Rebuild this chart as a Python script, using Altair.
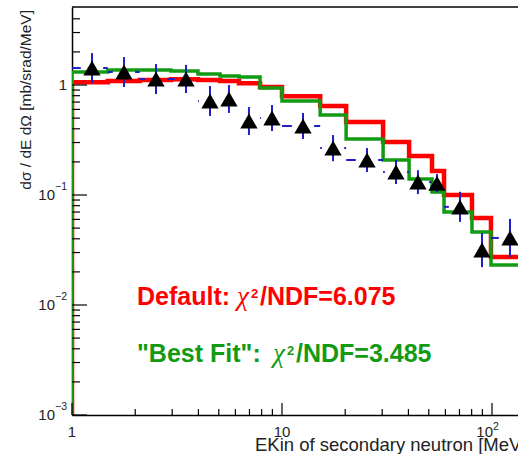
import altair as alt
import pandas as pd

# ---------------- data ----------------
bin_edges = [1.0, 1.48, 2.1, 2.96, 3.98, 5.07, 6.24, 7.86, 10.0, 15.2, 20.2,
             30.3, 40.3, 51.8, 59.1, 80.3, 98.9, 152.0]
default_vals = [1.06, 1.09, 1.11, 1.13, 1.11, 1.09, 1.04, 0.96, 0.79, 0.644,
                0.461, 0.303, 0.226, 0.165, 0.100, 0.0618, 0.0273]
bestfit_vals = [1.31, 1.37, 1.37, 1.34, 1.26, 1.21, 1.18, 0.939, 0.716, 0.534,
                0.323, 0.208, 0.140, 0.1065, 0.070, 0.0461, 0.0231]

data_E = [1.245, 1.768, 2.512, 3.49, 4.54, 5.59, 6.96, 8.96, 12.59, 17.5,
          25.4, 34.9, 44.4, 54.7, 70.4, 89.6, 121.8]
data_v = [1.427, 1.313, 1.134, 1.134, 0.716, 0.746, 0.471, 0.501, 0.424, 0.267,
          0.208, 0.162, 0.131, 0.128, 0.078, 0.0316, 0.0407]
data_lo = [1.043, 0.960, 0.829, 0.846, 0.523, 0.557, 0.351, 0.382, 0.323, 0.203,
           0.162, 0.126, 0.102, 0.106, 0.057, 0.0221, 0.0273]
data_hi = [1.952, 1.796, 1.551, 1.520, 0.979, 1.000, 0.631, 0.658, 0.557, 0.351,
           0.267, 0.208, 0.168, 0.155, 0.107, 0.0451, 0.0606]

x_major = [1, 10, 100]
x_minor = [2, 3, 4, 5, 6, 7, 8, 9, 20, 30, 40, 50, 60, 70, 80, 90]
y_major = [0.001, 0.01, 0.1, 1]
y_minor = [0.002, 0.003, 0.004, 0.005, 0.006, 0.007, 0.008, 0.009,
           0.02, 0.03, 0.04, 0.05, 0.06, 0.07, 0.08, 0.09,
           0.2, 0.3, 0.4, 0.5, 0.6, 0.7, 0.8, 0.9, 2, 3, 4]
y_label_vals = [0.1, 0.01, 0.001]
y_label_exps = ["\u22121", "\u22122", "\u22123"]

label_default = ["Default:", "\u03c7", "2", "/NDF=6.075"]
label_bestfit = ["\"Best Fit\":", "\u03c7", "2", "/NDF=3.485"]
x_title = "EKin of secondary neutron [MeV]"
y_title = "d\u03c3 / dE d\u03a9 [mb/srad/MeV]"

# ---------------- layout ----------------
W, H = 446, 408
XMIN, XMAX = 1.0, 133.0
YMIN, YMAX = 0.001, 5.12
RED = "#ff0000"
GREEN = "#139a13"
BLUE = "#1f1fc8"
FONT = "Liberation Sans"

xs = alt.Scale(type="log", domain=[XMIN, XMAX], nice=False)
ys = alt.Scale(type="log", domain=[YMIN, YMAX], nice=False)
XAX = alt.Axis(labels=False, ticks=False, grid=False, title="",
               domainColor="#000", domainWidth=1.5)
YAX = alt.Axis(labels=False, ticks=False, grid=False, title="",
               domainColor="#000", domainWidth=1.5)


def X(field):
    return alt.X(field, type="quantitative", scale=xs, axis=XAX)


def Y(field):
    return alt.Y(field, type="quantitative", scale=ys, axis=YAX)


def step_df(vals):
    es, vs = [bin_edges[0]], [YMIN]
    for i, v in enumerate(vals):
        es += [bin_edges[i], bin_edges[i + 1]]
        vs += [v, v]
    return pd.DataFrame({"e": es, "v": vs, "i": list(range(len(es)))})


def one(t):
    return pd.DataFrame({"t": [t]})


hist_red = alt.Chart(step_df(default_vals)).mark_line(
    color=RED, strokeWidth=4.5, clip=True, strokeJoin="miter"
).encode(x=X("e"), y=Y("v"), order="i:Q")
hist_green = alt.Chart(step_df(bestfit_vals)).mark_line(
    color=GREEN, strokeWidth=3.5, clip=True, strokeJoin="miter"
).encode(x=X("e"), y=Y("v"), order="i:Q")

pts = pd.DataFrame({
    "e": data_E, "v": data_v, "lo": data_lo, "hi": data_hi,
    "xl": bin_edges[:-1], "xh": bin_edges[1:],
})
err_v = alt.Chart(pts).mark_rule(color=BLUE, strokeWidth=2, clip=True).encode(
    x=X("e"), y=Y("lo"), y2="hi")
# horizontal bars, broken around the marker as ROOT draws them
err_hl = alt.Chart(pts).transform_calculate(
    a="max(datum.xl, datum.e / 1.13)"
).mark_rule(color=BLUE, strokeWidth=2, clip=True).encode(
    x=X("xl"), x2="a:Q", y=Y("v"))
err_hr = alt.Chart(pts).transform_calculate(
    b="min(datum.xh, datum.e * 1.13)"
).mark_rule(color=BLUE, strokeWidth=2, clip=True).encode(
    x=X("b"), x2="xh:Q", y=Y("v"))
markers = alt.Chart(pts).mark_point(
    shape="triangle-up", filled=True, color="#000", size=300, opacity=1
).encode(x=X("e"), y=Y("v"))

# frame top line
top_line = alt.Chart(one("")).mark_rule(color="#000", strokeWidth=1.5).encode(
    x=alt.value(0), x2=alt.value(W + 2), y=alt.value(0))

# inside ticks
xt_major = alt.Chart(pd.DataFrame({"e": x_major})).mark_rule(color="#000", strokeWidth=1.2).encode(
    x=X("e"), y=alt.value(H), y2=alt.value(H - 12))
xt_minor = alt.Chart(pd.DataFrame({"e": x_minor})).mark_rule(color="#000", strokeWidth=1.2).encode(
    x=X("e"), y=alt.value(H), y2=alt.value(H - 6))
yt_major = alt.Chart(pd.DataFrame({"v": y_major})).mark_rule(color="#000", strokeWidth=1.2).encode(
    y=Y("v"), x=alt.value(0), x2=alt.value(15))
yt_minor = alt.Chart(pd.DataFrame({"v": y_minor})).mark_rule(color="#000", strokeWidth=1.2).encode(
    y=Y("v"), x=alt.value(0), x2=alt.value(8))

LBL = dict(font=FONT, fontSize=15, color="#222")
EXP = dict(font=FONT, fontSize=10.5, color="#222")

# y tick labels
ylab_one = alt.Chart(pd.DataFrame({"v": [1], "t": ["1"]})).mark_text(
    align="right", baseline="middle", **LBL).encode(y=Y("v"), x=alt.value(-5), text="t:N")
ylab_base = alt.Chart(pd.DataFrame({"v": y_label_vals, "t": ["10"] * 3})).mark_text(
    align="right", baseline="middle", **LBL).encode(y=Y("v"), x=alt.value(-17), text="t:N")
ylab_exp = alt.Chart(pd.DataFrame({"v": y_label_vals, "t": y_label_exps})).mark_text(
    align="left", baseline="middle", dy=-8, **EXP).encode(y=Y("v"), x=alt.value(-17), text="t:N")

# x tick labels
xlab_a = alt.Chart(pd.DataFrame({"e": [1, 10], "t": ["1", "10"]})).mark_text(
    align="center", baseline="alphabetic", **LBL).encode(x=X("e"), y=alt.value(H + 22), text="t:N")
xlab_b = alt.Chart(pd.DataFrame({"e": [100], "t": ["10"]})).mark_text(
    align="right", baseline="alphabetic", dx=1, **LBL).encode(x=X("e"), y=alt.value(H + 22), text="t:N")
xlab_e = alt.Chart(pd.DataFrame({"e": [100], "t": ["2"]})).mark_text(
    align="left", baseline="alphabetic", dx=1, dy=-7, **EXP).encode(x=X("e"), y=alt.value(H + 22), text="t:N")

# axis titles
xtitle = alt.Chart(one(x_title)).mark_text(
    align="left", baseline="alphabetic", font=FONT, fontSize=18.5, color="#222").encode(
    x=alt.value(183), y=alt.value(H + 36), text="t:N")
ytitle = alt.Chart(one(y_title)).mark_text(
    align="right", baseline="middle", angle=270, font=FONT, fontSize=15.5, color="#222").encode(
    x=alt.value(-46), y=alt.value(3), text="t:N")


def legend_line(parts, color, ybase, xs_px):
    layers = []
    styles = [
        dict(font=FONT, fontSize=25, fontWeight="bold"),
        dict(font="Liberation Serif", fontSize=27, fontStyle="italic"),
        dict(font=FONT, fontSize=13, fontWeight="bold"),
        dict(font=FONT, fontSize=25, fontWeight="bold"),
    ]
    offs = [0, 0, -7, 0]
    for t, st, xp, off in zip(parts, styles, xs_px, offs):
        layers.append(alt.Chart(one(t)).mark_text(
            align="left", baseline="alphabetic", color=color, **st).encode(
            x=alt.value(xp), y=alt.value(ybase + off), text="t:N"))
    return layers


leg1 = legend_line(label_default, RED, 298, [165 - 100, 165, 179, 188])
leg2 = legend_line(label_bestfit, GREEN, 355, [65, 201, 215, 224])

chart = alt.layer(
    hist_red, hist_green, err_hl, err_hr, err_v, markers,
    top_line, xt_major, xt_minor, yt_major, yt_minor,
    ylab_one, ylab_base, ylab_exp, xlab_a, xlab_b, xlab_e,
    xtitle, ytitle, *leg1, *leg2,
).properties(
    width=W, height=H,
    autosize=alt.AutoSizeParams(type="none"),
    padding={"left": 72, "top": 7, "right": 0, "bottom": 39},
    background="#ffffff",
).configure_view(stroke=None)

chart.save("out.html", embed_options={"renderer": "svg", "actions": False})
